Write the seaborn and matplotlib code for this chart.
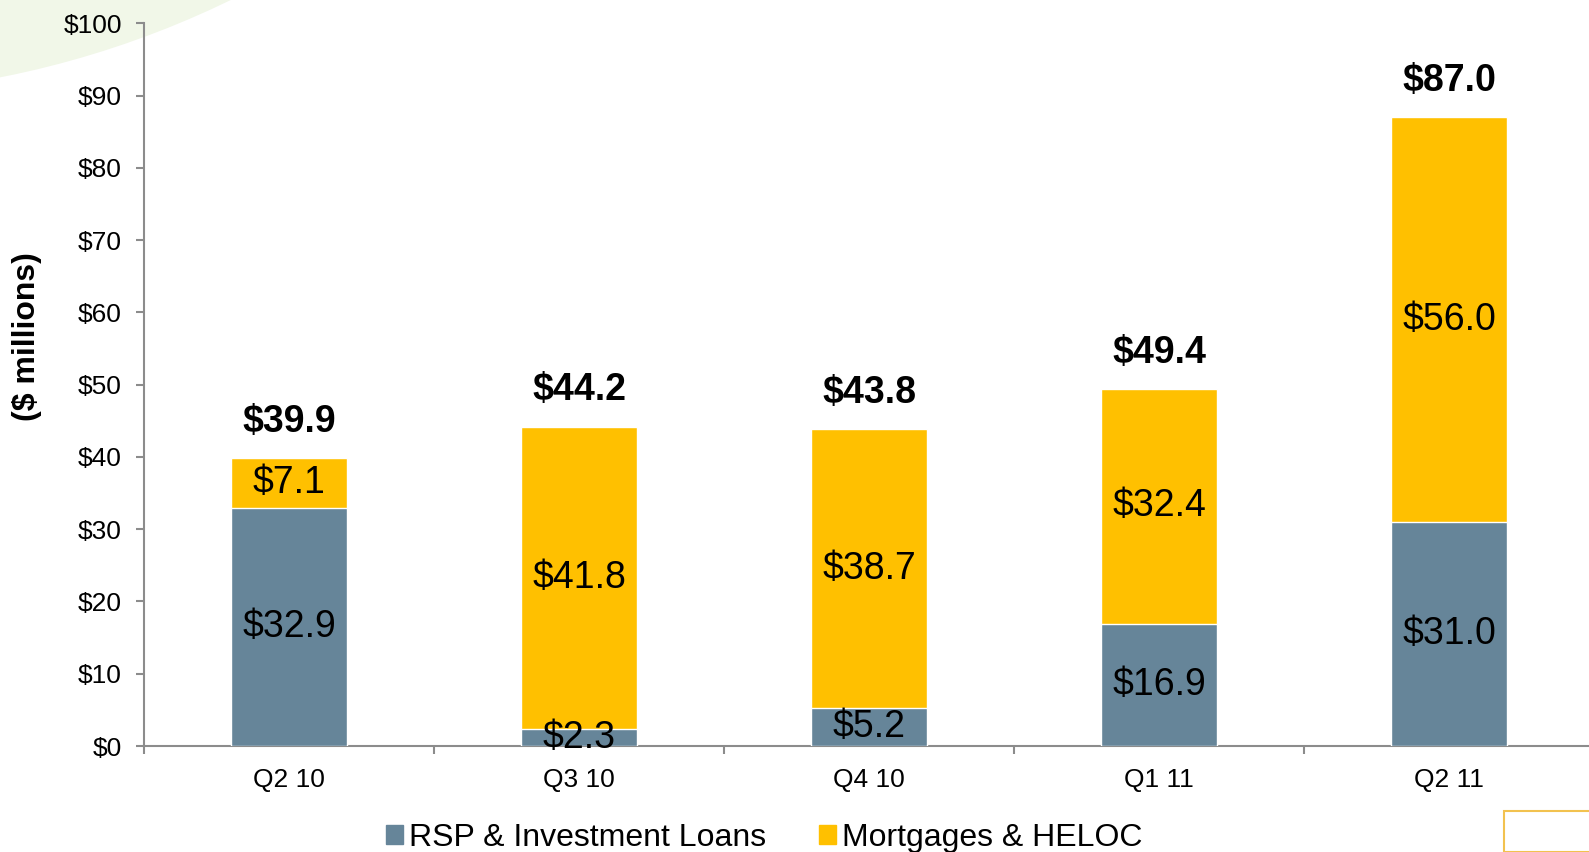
import numpy as np
import pandas as pd
import seaborn as sns
import matplotlib.pyplot as plt
from matplotlib.patches import Ellipse, Rectangle

quarters = ["Q2 10", "Q3 10", "Q4 10", "Q1 11", "Q2 11"]
rsp_loans = [32.9, 2.3, 5.2, 16.9, 31.0]
mortgages = [7.1, 41.8, 38.7, 32.4, 56.0]
totals = [39.9, 44.2, 43.8, 49.4, 87.0]
y_ticks = [0, 10, 20, 30, 40, 50, 60, 70, 80, 90, 100]

rsp_color = "#668599"
mort_color = "#FFC000"
axis_gray = "#8C8C8C"

sns.set_style("white")
plt.rcParams["font.family"] = ["Liberation Sans", "DejaVu Sans"]
plt.rcParams["text.color"] = "black"
plt.rcParams["xtick.color"] = "black"
plt.rcParams["ytick.color"] = "black"
plt.rcParams["axes.labelcolor"] = "black"

df = pd.DataFrame({"Quarter": quarters, "RSP": rsp_loans,
                   "Mortgages": mortgages, "Total": totals})

fig = plt.figure(figsize=(15.89, 8.52), dpi=100)

# faint green swoosh in the top-left corner
fig.add_artist(Ellipse((-181 / 1589, 1697 / 852), 2 * 940 / 1589, 2 * 940 / 852,
                       transform=fig.transFigure, color="#F1F7E8", zorder=0, lw=0))

ax = fig.add_axes([144 / 1589, 1 - 746 / 852, 1450 / 1589, (746 - 23.3) / 852])
ax.patch.set_alpha(0)

# stacked bars: full total first (mortgage colour), then RSP on top of it
sns.barplot(data=df, x="Quarter", y="Total", color=mort_color, saturation=1,
            width=0.4, ax=ax, zorder=2)
sns.barplot(data=df, x="Quarter", y="RSP", color=rsp_color, saturation=1,
            width=0.4, ax=ax, zorder=3)

for i in range(len(quarters)):
    ax.text(i, rsp_loans[i] / 2, f"${rsp_loans[i]:.1f}", ha="center", va="center",
            fontsize=27, zorder=5)
    mid = rsp_loans[i] + (totals[i] - rsp_loans[i]) / 2
    ax.text(i, mid, f"${mortgages[i]:.1f}", ha="center", va="center",
            fontsize=27, zorder=5)
    ax.annotate(f"${totals[i]:.1f}", (i, totals[i]), xytext=(0, 26),
                textcoords="offset points", ha="center", va="center",
                fontsize=27, fontweight="bold", zorder=5)

ax.set_xlim(-0.5, 4.5)
ax.set_ylim(0, 100)
ax.set_yticks(y_ticks)
ax.set_yticklabels([f"${v}" for v in y_ticks], fontsize=19)
ax.set_xticks(range(len(quarters)))
ax.set_xticklabels(quarters, fontsize=19)
ax.set_xticks(np.arange(-0.5, 5, 1), minor=True)
ax.tick_params(axis="x", which="major", bottom=True, length=0, pad=16)
ax.tick_params(axis="x", which="minor", bottom=True, length=6, color=axis_gray,
               width=1.5, direction="out")
ax.tick_params(axis="y", left=True, length=6, color=axis_gray, width=1.5,
               direction="out", pad=10)
ax.set_xlabel("")
ax.set_ylabel("($ millions)", fontsize=23, fontweight="bold")
ax.yaxis.set_label_coords(-0.070, 0.567)

for side in ["top", "right"]:
    ax.spines[side].set_visible(False)
for side in ["left", "bottom"]:
    ax.spines[side].set_color(axis_gray)
    ax.spines[side].set_linewidth(1.5)

handles = [Rectangle((0, 0), 1, 1, color=rsp_color), Rectangle((0, 0), 1, 1, color=mort_color)]
fig.legend(handles, ["RSP & Investment Loans", "Mortgages & HELOC"], loc="lower center",
           bbox_to_anchor=(0.481, -0.035), ncol=2, frameon=False, fontsize=23,
           handlelength=0.53, handleheight=0.53, handletextpad=0.2, columnspacing=1.65)

# corner logo placeholder box
fig.add_artist(Rectangle((1504 / 1589, 0), 90 / 1589, 41 / 852, transform=fig.transFigure,
                         fill=False, edgecolor="#F2C24F", lw=1.5))

fig.savefig("out.png", dpi=100)
